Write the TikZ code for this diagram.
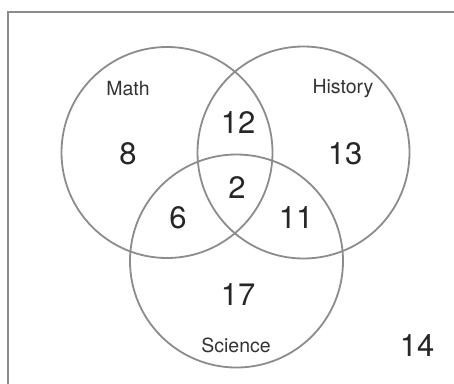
\documentclass[tikz,border=0pt]{standalone}
\usepackage{fontspec}
\setmainfont{TeX Gyre Heros}
\begin{document}
\begin{tikzpicture}[x=1pt,y=-1pt,
  setline/.style={draw=black!45,line width=1.8pt},
  numlbl/.style={text=black!85,font=\fontsize{31}{33}\selectfont,inner sep=0pt},
  setlbl/.style={text=black!80,font=\fontsize{19.5}{21}\selectfont,inner sep=0pt}]
\useasboundingbox (0,0) rectangle (454,383);
\fill[white] (0,0) rectangle (454,383);
\draw[draw=black!45,line width=1.8pt] (8,390) -- (8,12) -- (460,12);
\draw[setline] (167,152.5) circle (105.5);
\draw[setline] (303.5,152.5) circle (106);
\draw[setline] (236.5,261) circle (106.5);
\node[setlbl] (math) at (128,89) {Math};
\node[setlbl] (hist) at (343,89) {History};
\node[setlbl] (sci) at (236,345) {Science};
\node[numlbl] (n8) at (128,154) {8};
\node[numlbl] (n12) at (238,123) {12};
\node[numlbl] (n13) at (345,154) {13};
\node[numlbl] (n2) at (237,188) {2};
\node[numlbl] (n6) at (178,218) {6};
\node[numlbl] (n11) at (296,218) {11};
\node[numlbl] (n17) at (238,295) {17};
\node[numlbl] (n14) at (417,346) {14};
\end{tikzpicture}
\end{document}
